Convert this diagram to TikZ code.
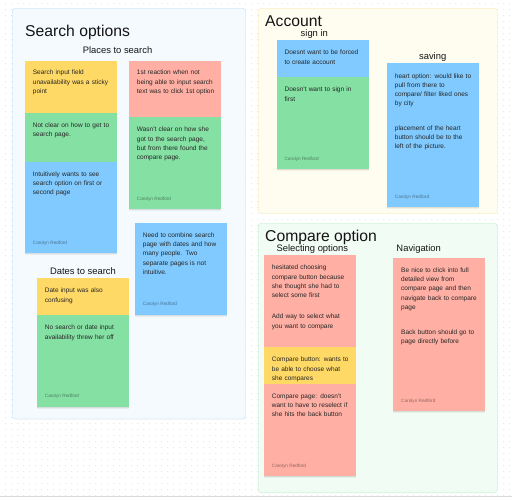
\documentclass[tikz,border=0pt]{standalone}
\usepackage{fontspec}
\setmainfont{Liberation Sans}

\definecolor{stickyyellow}{HTML}{FFD966}
\definecolor{stickygreen}{HTML}{85E0A3}
\definecolor{stickyblue}{HTML}{80CAFF}
\definecolor{stickyred}{HTML}{FFAFA3}
\definecolor{boardblue}{HTML}{F5FAFF}
\definecolor{boardblueedge}{HTML}{D5E9F9}
\definecolor{boardyellow}{HTML}{FFFCF0}
\definecolor{boardyellowedge}{HTML}{FBEFC8}
\definecolor{boardgreen}{HTML}{F1FCF5}
\definecolor{boardgreenedge}{HTML}{CFF2DB}
\definecolor{dotgrey}{HTML}{D6D6D6}
\definecolor{notetext}{HTML}{262626}

\tikzset{
  griddots/.style={draw=dotgrey, line width=0.9pt, line cap=round, dash pattern=on 0pt off 6pt},
  board/.style={line width=0.6pt, rounded corners=3pt},
  sticky/.style={anchor=north west, minimum width=92pt, minimum height=#1,
    inner sep=0pt, outer sep=0pt,
    preaction={fill=black, fill opacity=0.05, transform canvas={yshift=-1.8pt}},
    preaction={fill=black, fill opacity=0.07, transform canvas={yshift=-0.9pt}}},
  note/.style={anchor=base west, inner sep=0pt, text width=82pt, align=left,
    font=\fontsize{6.5}{9.3}\selectfont, text=notetext},
  author/.style={anchor=base west, inner sep=0pt, font=\fontsize{4.7}{5.5}\selectfont,
    text=black, text opacity=0.42},
  heading/.style={anchor=base west, inner sep=0pt, font=\fontsize{15.7}{18}\selectfont, text=black!92},
  subheading/.style={anchor=base, inner sep=0pt, font=\fontsize{9.4}{11}\selectfont, text=black!92},
}

\begin{document}
\begin{tikzpicture}[x=1pt, y=-1pt]
\useasboundingbox (0,0) rectangle (512,499);
\fill[white] (0,0) rectangle (512,499);

% canvas dot grid
\foreach \row in {0,...,82}
  \draw[griddots] (5.7,{3.5+6*\row}) -- (512,{3.5+6*\row});
\draw[black!15, line width=0.8pt] (0,496.6) -- (512,496.6);

% boards
\draw[board, fill=boardblue, draw=boardblueedge] (12.3,8.3) rectangle (245.6,419);
\draw[board, fill=boardyellow, draw=boardyellowedge] (258.3,8.3) rectangle (497.3,213.3);
\draw[board, fill=boardgreen, draw=boardgreenedge] (258.3,223.3) rectangle (497.3,492.7);

% ---------- Search options ----------
\node[heading] (tsearch) at (25,36.2) {Search options};
\node[subheading] (tplaces) at (117.5,53.6) {Places to search};
\node[subheading] (tdates) at (83,274.4) {Dates to search};

\node[sticky=52.3pt, fill=stickyyellow] (s1) at (25,60.7) {};
\node[sticky=48.7pt, fill=stickygreen] (s2) at (25,113) {};
\node[sticky=91.6pt, fill=stickyblue] (s3) at (25,161.7) {};
\node[note] (n1) at (32.7,74.7) {Search input field\\unavailability was a sticky\\point};
\node[note] (n2) at (32.7,127.3) {Not clear on how to get to\\search page.};
\node[note] (n3) at (32.7,176.3) {Intuitively wants to see\\search option on first or\\second page};
\node[author] (a3) at (32.7,244.7) {Carolyn Redford};

\node[sticky=56.6pt, fill=stickyred] (s4) at (129,60.7) {};
\node[sticky=92pt, fill=stickygreen] (s5) at (129,117.3) {};
\node[note] (n4) at (136.7,74.7) {1st reaction when not\\being able to input search\\text was to click 1st option};
\node[note] (n5) at (136.7,131.7) {Wasn't clear on how she\\got to the search page,\\but from there found the\\compare page.};
\node[author] (a5) at (136.7,200.7) {Carolyn Redford};

\node[sticky=91.7pt, fill=stickyblue] (s6) at (135,223) {};
\node[note] (n6) at (142.7,237.3) {Need to combine search\\page with dates and how\\many people. Two\\separate pages is not\\intuitive.};
\node[author] (a6) at (142.7,305.7) {Carolyn Redford};

\node[sticky=36.7pt, fill=stickyyellow] (s7) at (37,278.3) {};
\node[sticky=91.7pt, fill=stickygreen] (s8) at (37,315) {};
\node[note] (n7) at (44.7,292.7) {Date input was also\\confusing};
\node[note] (n8) at (44.7,329.7) {No search or date input\\availability threw her off};
\node[author] (a8) at (44.7,397.7) {Carolyn Redford};

% ---------- Account ----------
\node[heading] (taccount) at (265,26.2) {Account};
\node[subheading] (tsignin) at (314.3,36.6) {sign in};
\node[subheading] (tsaving) at (432.7,59.6) {saving};

\node[sticky=37pt, fill=stickyblue] (s9) at (276.7,40.3) {};
\node[sticky=91.7pt, fill=stickygreen] (s10) at (276.7,77.3) {};
\node[note] (n9) at (284.4,54.7) {Doesnt want to be forced\\to create account};
\node[note] (n10) at (284.4,91.7) {Doesn't want to sign in\\first};
\node[author] (a10) at (284.4,160) {Carolyn Redford};

\node[sticky=52.6pt, fill=stickyblue] (s11) at (387,63.3) {};
\node[sticky=91.6pt, fill=stickyblue] (s12) at (387,115.7) {};
\node[note] (n11) at (394.7,78) {heart option: would like to\\pull from there to\\compare/ filter liked ones\\by city};
\node[note] (n12) at (394.7,130.3) {placement of the heart\\button should be to the\\left of the picture.};
\node[author] (a12) at (394.7,198.7) {Carolyn Redford};

% ---------- Compare option ----------
\node[heading] (tcompare) at (265,241.2) {Compare option};
\node[subheading] (tselect) at (312.3,251.6) {Selecting options};
\node[subheading] (tnav) at (418.7,251.6) {Navigation};

\node[sticky=49pt, fill=stickyred] (s13) at (264,255.3) {};
\node[sticky=42.7pt, fill=stickyred] (s14) at (264,304.3) {};
\node[sticky=36.7pt, fill=stickyyellow] (s15) at (264,347) {};
\node[sticky=92pt, fill=stickyred] (s16) at (264,383.7) {};
\node[note] (n13) at (271.7,269.7) {hesitated choosing\\compare button because\\she thought she had to\\select some first};
\node[note] (n14) at (271.7,318.7) {Add way to select what\\you want to compare};
\node[note] (n15) at (271.7,361.7) {Compare button: wants to\\be able to choose what\\she compares};
\node[note] (n16) at (271.7,398.3) {Compare page: doesn't\\want to have to reselect if\\she hits the back button};
\node[author] (a16) at (271.7,467) {Carolyn Redford};

\node[sticky=61.3pt, fill=stickyred] (s17) at (393.3,258.3) {};
\node[sticky=91.7pt, fill=stickyred] (s18) at (393.3,319.6) {};
\node[note] (n17) at (401,272.3) {Be nice to click into full\\detailed view from\\compare page and then\\navigate back to compare\\page};
\node[note] (n18) at (401,334) {Back button should go to\\page directly before};
\node[author] (a18) at (401,402.7) {Carolyn Redford};
\end{tikzpicture}
\end{document}
